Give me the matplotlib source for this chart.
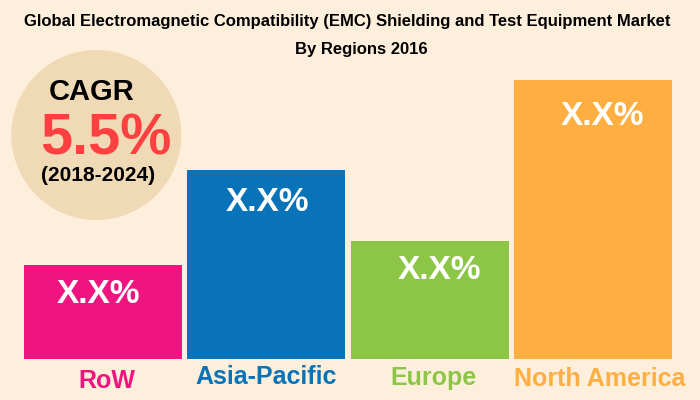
import matplotlib.pyplot as plt
from matplotlib.patches import Ellipse

plt.rcParams["font.family"] = ["Liberation Sans", "DejaVu Sans"]

regions = ["RoW", "Asia-Pacific", "Europe", "North America"]
heights = [94, 188.5, 117.5, 279]
bar_labels = ["X.X%", "X.X%", "X.X%", "X.X%"]
colors = ["#EF1480", "#0873B9", "#8DC646", "#FFAE42"]
bg = "#FEEFDD"

fig = plt.figure(figsize=(7, 4), dpi=100, facecolor=bg)
# axes in pixel coordinates, y down like the image
ax = fig.add_axes([0, 0, 1, 1])
ax.set_xlim(0, 700)
ax.set_ylim(400, 0)
ax.axis("off")

lefts = [24, 187, 351, 514]
base = 358.5
for left, h, c in zip(lefts, heights, colors):
    ax.bar(left, -h, width=158, bottom=base, align="edge", color=c, linewidth=0)

for x, y, lab in zip([98, 267, 439, 602], [294.5, 202.5, 270.5, 116.5], bar_labels):
    ax.text(x, y, lab, color="white", fontsize=24, fontweight="bold", ha="center", va="center")

# region names sit on slightly different baselines in the original
for x, y, name, c in zip([107, 266, 434, 600], [388, 384, 385, 386], regions, colors):
    ax.text(x, y, name, color=c, fontsize=18, fontweight="bold", ha="center", va="baseline")

ax.add_patch(Ellipse((96.3, 135), 170, 170, color="#F0D9B5", linewidth=0))
ax.text(92, 100, "CAGR", color="black", fontsize=21, fontweight="bold", ha="center", va="baseline")
ax.text(105.5, 154.5, "5.5%", color="#FF4040", fontsize=41.5, fontweight="bold", ha="center", va="baseline")
ax.text(98, 181, "(2018-2024)", color="black", fontsize=15, fontweight="bold", ha="center", va="baseline")

ax.text(347, 26, "Global Electromagnetic Compatibility (EMC) Shielding and Test Equipment Market",
        color="black", fontsize=12, fontweight="bold", ha="center", va="baseline")
ax.text(361, 54, "By Regions 2016", color="black", fontsize=12, fontweight="bold", ha="center", va="baseline")

fig.savefig("out.png", dpi=100, facecolor=bg)
